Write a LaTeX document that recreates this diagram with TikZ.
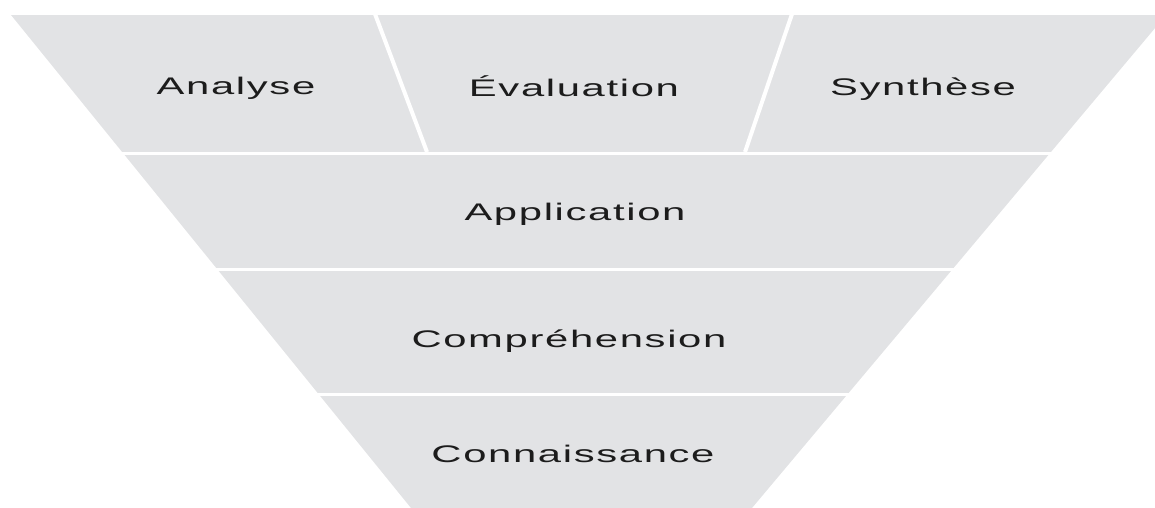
\documentclass[tikz,border=0pt]{standalone}
\usepackage{fontspec}
\newfontfamily\funnelfont[LetterSpace=4]{Liberation Sans}
\definecolor{funnelgray}{HTML}{E2E3E5}
\definecolor{labelink}{HTML}{1C1C1C}
\newcommand{\widetext}[1]{\scalebox{1.74}[1]{#1}}
\begin{document}
\begin{tikzpicture}[x=1pt,y=-1pt,
  lab/.style={inner sep=0pt,anchor=base,font=\funnelfont\fontsize{24}{28}\selectfont,text=labelink},
  sepline/.style={draw=white,line width=3pt},
  slant/.style={draw=white,line width=4pt}]
\useasboundingbox (0,0) rectangle (1155,507);
\clip (0,0) rectangle (1155,507);
\fill[funnelgray] (11,15) -- (1166,15) -- (752,508) -- (411,508) -- cycle;
% row separators
\coordinate (s1l) at (0,153); \coordinate (s1r) at (1155,153);
\coordinate (s2l) at (0,269); \coordinate (s2r) at (1155,269);
\coordinate (s3l) at (0,394); \coordinate (s3r) at (1155,394);
\draw[sepline] (s1l) -- (s1r);
\draw[sepline] (s2l) -- (s2r);
\draw[sepline] (s3l) -- (s3r);
% slanted separators in the top row
\coordinate (d1t) at (375,14); \coordinate (d1b) at (427,152);
\coordinate (d2t) at (792,14); \coordinate (d2b) at (745,152);
\draw[slant] (d1t) -- (d1b);
\draw[slant] (d2t) -- (d2b);
% labels
\node[lab] (analyse) at (236,94) {\widetext{Analyse}};
\node[lab] (evaluation) at (574,96) {\widetext{Évaluation}};
\node[lab] (synthese) at (923,95) {\widetext{Synthèse}};
\node[lab] (application) at (575,220) {\widetext{Application}};
\node[lab] (comprehension) at (569,347) {\widetext{Compréhension}};
\node[lab] (connaissance) at (573,462) {\widetext{Connaissance}};
\end{tikzpicture}
\end{document}
